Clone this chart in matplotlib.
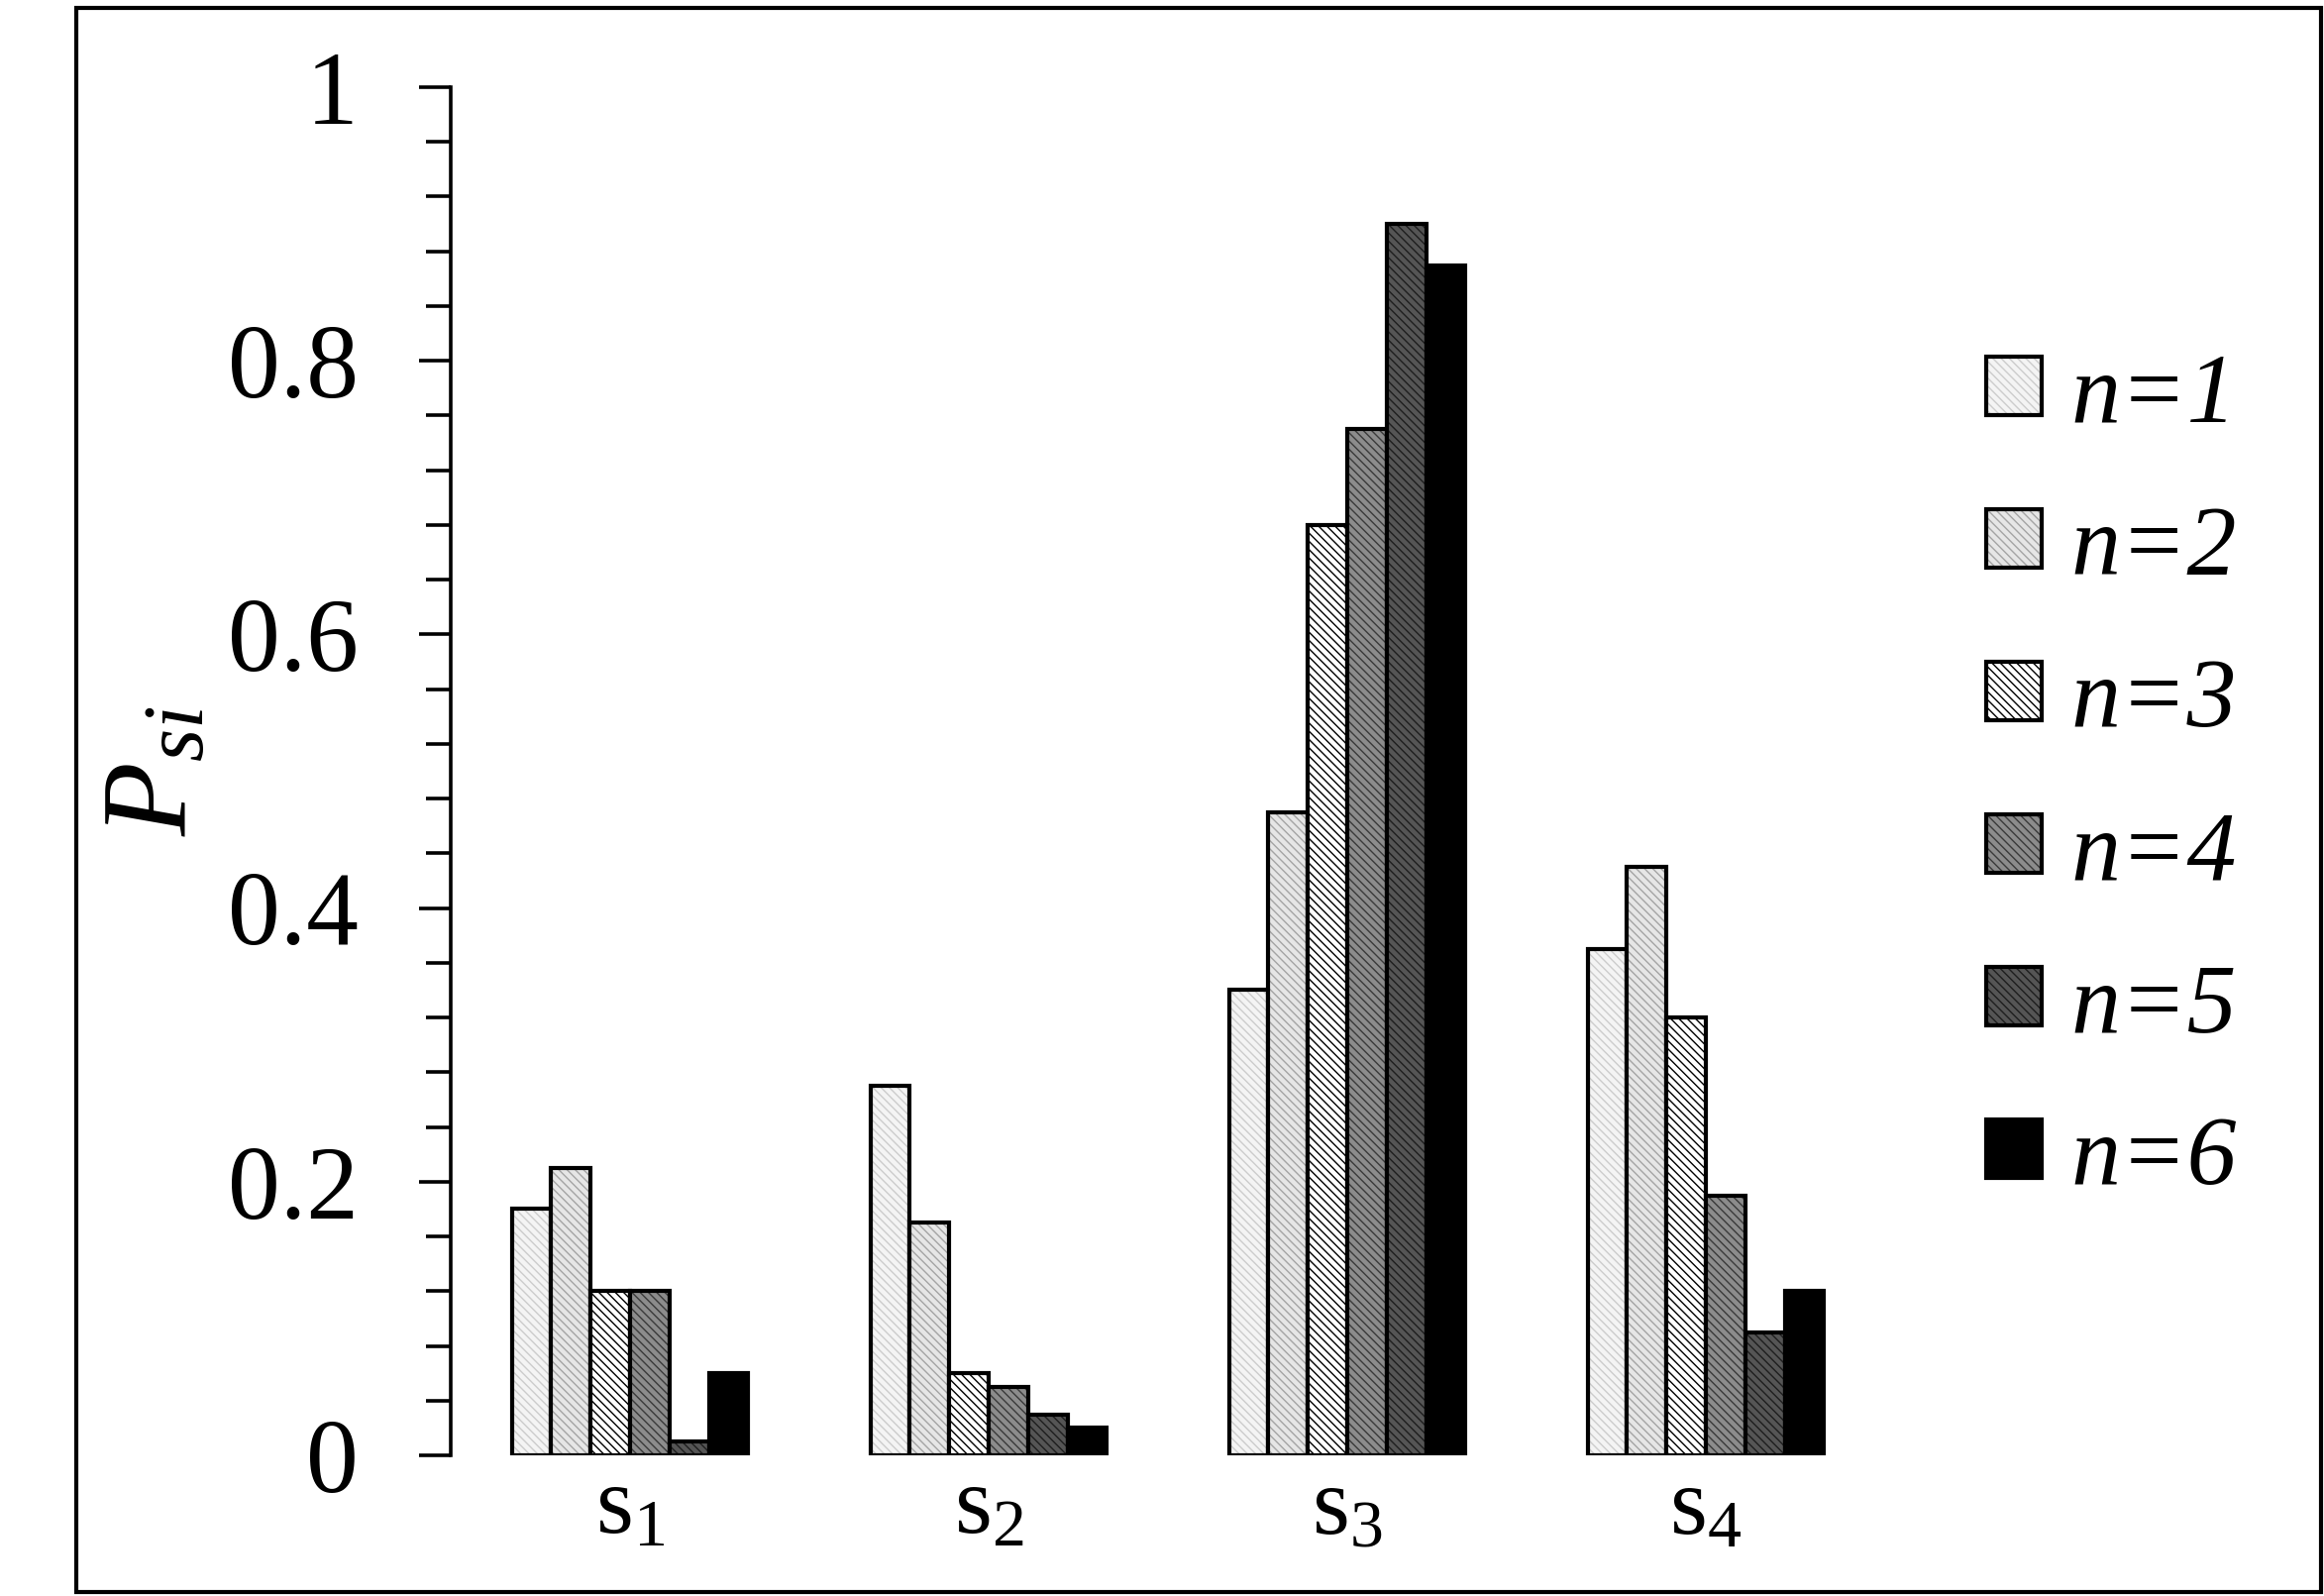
import numpy as np
import matplotlib.pyplot as plt
from matplotlib.patches import Rectangle
from matplotlib.legend_handler import HandlerTuple
from matplotlib.ticker import MultipleLocator, FuncFormatter

plt.rcParams['font.family'] = ['Liberation Serif', 'DejaVu Serif']
plt.rcParams['mathtext.fontset'] = 'custom'
plt.rcParams['mathtext.rm'] = 'Liberation Serif'
plt.rcParams['mathtext.it'] = 'Liberation Serif:italic'
plt.rcParams['hatch.linewidth'] = 0.5

# data
categories = [r'$\mathrm{s}_1$', r'$\mathrm{s}_2$', r'$\mathrm{s}_3$', r'$\mathrm{s}_4$']
series_names = ['n=1', 'n=2', 'n=3', 'n=4', 'n=5', 'n=6']
n1 = [0.18, 0.27, 0.34, 0.37]
n2 = [0.21, 0.17, 0.47, 0.43]
n3 = [0.12, 0.06, 0.68, 0.32]
n4 = [0.12, 0.05, 0.75, 0.19]
n5 = [0.01, 0.03, 0.90, 0.09]
n6 = [0.06, 0.02, 0.87, 0.12]
series = [n1, n2, n3, n4, n5, n6]

faces = ['#f4f4f4', '#e6e6e6', '#ffffff', '#8c8c8c', '#555555', '#000000']
hatch_cols = ['#cccccc', '#a4a4a4', '#000000', '#3a3a3a', '#1e1e1e', '#000000']
hatch = '\\' * 8
edge_lw = 1.5

fig = plt.figure(figsize=(11.73, 8.055), dpi=200)
ax = fig.add_axes([455 / 2346, 142 / 1611, 1448 / 2346, 1381 / 1611])

x = np.arange(len(categories))
w = 0.11
handles = []
for i, vals in enumerate(series):
    pos = x + (i - 2.5) * w
    ax.bar(pos, vals, w, color=faces[i], edgecolor=hatch_cols[i],
           hatch=hatch if i < 5 else None, linewidth=0)
    ax.bar(pos, vals, w, fill=False, edgecolor='black', linewidth=edge_lw)
    fill_h = Rectangle((0, 0), 1, 1, facecolor=faces[i], edgecolor=hatch_cols[i],
                       hatch=hatch if i < 5 else None, linewidth=0)
    edge_h = Rectangle((0, 0), 1, 1, fill=False, edgecolor='black', linewidth=edge_lw)
    handles.append((fill_h, edge_h))

ax.set_xlim(-0.5, 3.5)
ax.set_ylim(0, 1)
ax.set_xticks(x)
ax.set_xticklabels(categories, fontsize=35)
ax.tick_params(axis='x', length=0, pad=4)

ax.yaxis.set_major_locator(MultipleLocator(0.2))
ax.yaxis.set_minor_locator(MultipleLocator(0.04))
ax.yaxis.set_major_formatter(FuncFormatter(lambda v, p: '%g' % v))
ax.tick_params(axis='y', which='major', length=11.5, width=1.3,
               labelsize=38, pad=22)
ax.tick_params(axis='y', which='minor', length=9, width=1.3)

for s in ['top', 'right', 'bottom']:
    ax.spines[s].set_visible(False)
ax.spines['left'].set_linewidth(1.3)

ax.set_ylabel(r'$P_{si}$', fontsize=44)
ax.yaxis.set_label_coords(-0.166, 0.5)

leg = fig.legend(handles, series_names, loc='upper left',
                 handler_map={tuple: HandlerTuple(ndivide=1, pad=0)},
                 bbox_to_anchor=(2005 / 2346, 1 - 356 / 1611),
                 frameon=False, borderpad=0, borderaxespad=0,
                 handlelength=0.56, handleheight=0.54, handletextpad=0.29,
                 labelspacing=0.64, prop={'size': 36, 'style': 'italic'})

fig.patches.append(Rectangle((77 / 2346, 1 - 1607 / 1611),
                             (2343 - 77) / 2346, (1607 - 8) / 1611,
                             transform=fig.transFigure, fill=False,
                             edgecolor='black', linewidth=1.5))

fig.savefig('out.png', dpi=200)
